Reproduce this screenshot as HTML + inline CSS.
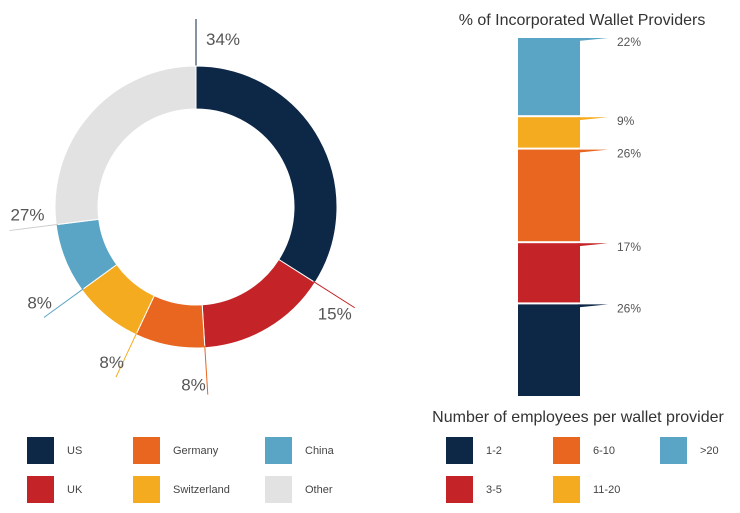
<!DOCTYPE html>
<html><head><meta charset="utf-8"><style>
body{margin:0;background:#fff;font-family:"Liberation Sans",sans-serif;}
svg{display:block}
</style></head><body>
<svg id="c" width="740" height="513" viewBox="0 0 740 513"></svg>
<script>
const countries=["US","UK","Germany","Switzerland","China","Other"];
const countryShares=[34,15,8,8,8,27];
const countryColors=["#0d2747","#c42327","#e8661f","#f5ab1f","#5aa5c5","#e2e2e2"];
const sizeBands=[">20","11-20","6-10","3-5","1-2"];
const sizeShares=[22,9,26,17,26];
const sizeColors=["#5aa5c5","#f5ab1f","#e8661f","#c42327","#0d2747"];
const legendSize=["1-2","3-5","6-10","11-20",">20"];
const legendSizeColors=["#0d2747","#c42327","#e8661f","#f5ab1f","#5aa5c5"];
const NS="http://www.w3.org/2000/svg";
const svg=document.getElementById('c');
function mk(t,a,p){const e=document.createElementNS(NS,t);for(const k in a)e.setAttribute(k,a[k]);(p||svg).appendChild(e);return e;}
const cx=196,cy=207,R=141,r=98;
const total=countryShares.reduce((a,b)=>a+b,0);
function pt(a,rad){return [cx+rad*Math.sin(a),cy-rad*Math.cos(a)];}
let acc=0;
countryShares.forEach((v,i)=>{
  const a0=acc/total*2*Math.PI,a1=(acc+v)/total*2*Math.PI;acc+=v;
  const [x0,y0]=pt(a0,R),[x1,y1]=pt(a1,R),[x2,y2]=pt(a1,r),[x3,y3]=pt(a0,r);
  const lg=(a1-a0)>Math.PI?1:0;
  const p=mk('path',{d:`M${x0},${y0}A${R},${R} 0 ${lg} 1 ${x1},${y1}L${x2},${y2}A${r},${r} 0 ${lg} 0 ${x3},${y3}Z`,fill:countryColors[i],stroke:'#fff','stroke-width':1});
  
  
  const [lx0,ly0]=pt(a0,R-2),[lx1,ly1]=pt(a0,R+47);
  const l=mk('line',{x1:lx0,y1:ly0,x2:lx1,y2:ly1,stroke:countryColors[i]==="#e2e2e2"?"#ccc":countryColors[i],'stroke-width':1});
  
  
  const s=Math.sin(a0),c=Math.cos(a0);
  let tx,ty,anchor;
  if(Math.abs(a0)<0.01){tx=lx1+10;ty=45;anchor='start';}
  else if(s>0.2){tx=lx1-37;ty=ly1+12;anchor='start';}
  else if(c>-0.3){tx=lx1+1;ty=ly1-10;anchor='start';}
  else if(s>-0.2){tx=lx1-2;ty=ly1-4;anchor='end';}
  else {tx=lx1+8;ty=ly1-9;anchor='end';}
  const t=mk('text',{x:tx,y:ty,'font-size':17,fill:'#555','text-anchor':anchor});
  t.textContent=v+'%';
  
  
});
const bx=518,bw=62,by=37,bh=360;
const st=mk('text',{x:582,y:25,'text-anchor':'middle','font-size':16,fill:'#333'});
st.textContent='% of Incorporated Wallet Providers';

let yy=by;const tot2=sizeShares.reduce((a,b)=>a+b,0);
sizeShares.forEach((v,i)=>{
  const h=v/tot2*bh;
  const s=mk('rect',{x:bx,y:yy+1,width:bw,height:h-2,fill:sizeColors[i]});
  
  
  const sp=mk('path',{d:`M${bx+bw-2},${yy+1}L608,${yy+1}L${bx+bw-2},${yy+4}Z`,fill:sizeColors[i]});
  
  const t=mk('text',{x:617,y:yy+9,'font-size':12,fill:'#555'});t.textContent=v+'%';
  
  yy+=h;
});
const lt=mk('text',{x:578,y:422,'text-anchor':'middle','font-size':16,fill:'#333'});
lt.textContent='Number of employees per wallet provider';

const lc=[27,133,265],rc=[446,553,660],rows=[437,476];
countries.forEach((c,i)=>{
  const x=lc[Math.floor(i/2)],y=rows[i%2];
  const g=mk('g',{});
  mk('rect',{x:x,y:y,width:27,height:27,fill:countryColors[i]},g);
  const t=mk('text',{x:x+40,y:y+17,'font-size':11,fill:'#444'},g);t.textContent=c;
});
legendSize.forEach((c,i)=>{
  const x=rc[Math.floor(i/2)],y=rows[i%2];
  const g=mk('g',{});
  mk('rect',{x:x,y:y,width:27,height:27,fill:legendSizeColors[i]},g);
  const t=mk('text',{x:x+40,y:y+17,'font-size':11,fill:'#444'},g);t.textContent=c;
});
</script>
</body></html>
